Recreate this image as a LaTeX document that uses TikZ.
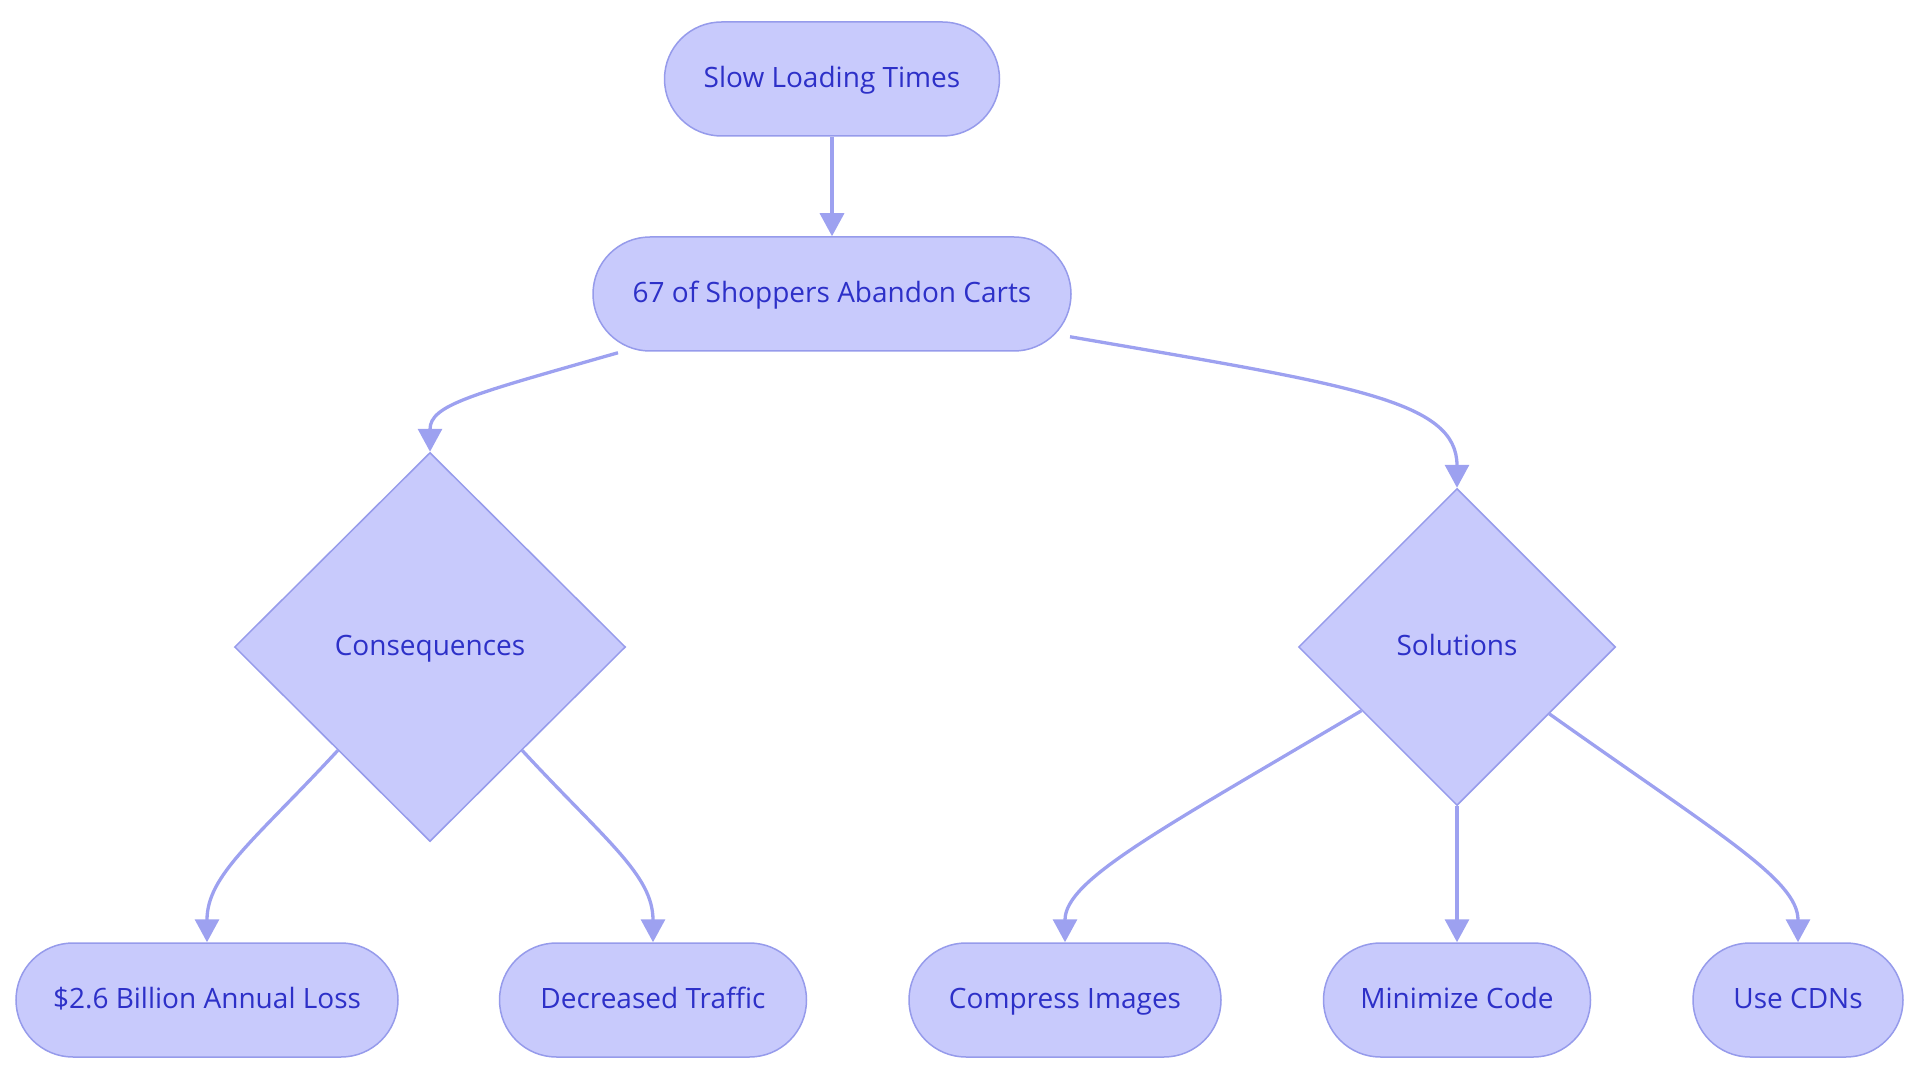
\documentclass[tikz,border=0pt]{standalone}
\usepackage{fontspec}
\setmainfont{Open Sans}
\usetikzlibrary{shapes.geometric,arrows.meta,calc}
\definecolor{nfill}{RGB}{200,202,252}
\definecolor{nline}{RGB}{150,155,235}
\definecolor{ntext}{RGB}{45,48,200}
\definecolor{eline}{RGB}{157,161,240}
\begin{document}
\begin{tikzpicture}[x=1pt,y=-1pt,
  lbl/.style={text=ntext,font=\fontsize{28}{33}\selectfont,text height=21.5pt,text depth=4.5pt},
  pill/.style={lbl,draw=nline,fill=nfill,line width=1.5pt,rounded corners=57pt,minimum height=114pt,inner sep=0pt},
  dia/.style={lbl,diamond,draw=nline,fill=nfill,line width=1.5pt,inner sep=0pt,aspect=1},
  conn/.style={draw=eline,line width=3.3pt,-{Triangle[length=23pt,width=24pt]}}]
\useasboundingbox (0,0) rectangle (1920,1083);
\node[pill,minimum width=335pt] (slow) at (832,79) {Slow Loading Times};
\node[pill,minimum width=478pt] (aband) at (832,294) {67 of Shoppers Abandon Carts};
\node[dia,minimum width=391pt,minimum height=389pt] (cons) at (430,647) {Consequences};
\node[dia,minimum width=317pt,minimum height=317pt] (sol) at (1457,647) {Solutions};
\node[pill,minimum width=382pt] (loss) at (207,1000) {\$2.6 Billion Annual Loss};
\node[pill,minimum width=307pt] (traf) at (653,1000) {Decreased Traffic};
\node[pill,minimum width=312pt] (comp) at (1065,1000) {Compress Images};
\node[pill,minimum width=267pt] (mini) at (1457,1000) {Minimize Code};
\node[pill,minimum width=210pt] (cdn) at (1798,1000) {Use CDNs};

\draw[conn] (slow.south) -- (aband.north);
\draw[conn] ([xshift=-214pt,yshift=-1pt]aband.south) .. controls (470,395) and (430,405) .. (cons.north);
\draw[conn] ([xshift=238pt,yshift=15pt]aband.south) .. controls (1350,385) and (1457,400) .. (sol.north);
\draw[conn] ($(cons.west)!0.53!(cons.south)$) .. controls (255,840) and (207,875) .. (loss.north);
\draw[conn] ($(cons.east)!0.53!(cons.south)$) .. controls (605,840) and (653,875) .. (traf.north);
\draw[conn] ($(sol.west)!0.4!(sol.south)$) .. controls (1160,830) and (1065,880) .. (comp.north);
\draw[conn] (sol.south) -- (mini.north);
\draw[conn] ($(sol.east)!0.42!(sol.south)$) .. controls (1720,835) and (1798,880) .. (cdn.north);
\end{tikzpicture}
\end{document}
